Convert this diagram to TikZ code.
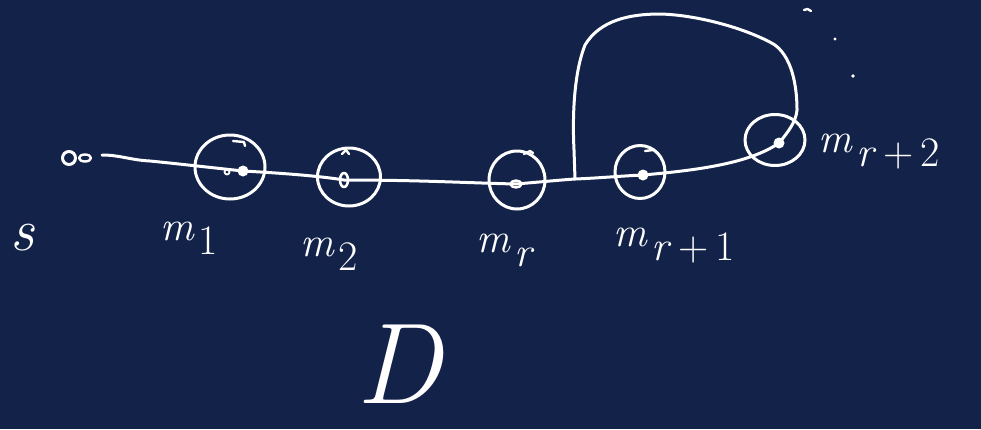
\documentclass[tikz,border=0pt]{standalone}
\usepackage{fontspec}
\usetikzlibrary{shapes.geometric}
\definecolor{bg}{RGB}{19,34,72}
\newcommand\msubx[1]{\textit{m}\hspace{0.08em}\raisebox{-0.35em}{#1}}
\begin{document}
\begin{tikzpicture}[x=1pt,y=-1pt,line cap=round,line join=round,
  pen/.style={draw=white,line width=3pt},
  ring/.style={draw=white,line width=3pt,ellipse,inner sep=0pt},
  dot/.style={circle,fill=white,inner sep=0pt,minimum size=11pt},
  lab/.style={text=white,inner sep=0pt,font=\fontsize{42}{42}\selectfont},
  big/.style={text=white,inner sep=0pt,font=\fontsize{115}{115}\selectfont}]
\fill[bg] (0,0) rectangle (981,429);
\useasboundingbox (0,0) rectangle (981,429);
% source s
\node[draw=white,line width=3pt,circle,minimum size=13pt,inner sep=0pt] (s) at (69,158) {};
\node[draw=white,line width=2.4pt,ellipse,minimum width=12pt,minimum height=7pt,inner sep=0pt] (s2) at (85,158) {};
% dots on the line
\node[dot] (d1) at (243,171) {};
\node[draw=white,line width=1.8pt,circle,minimum size=5pt,inner sep=0pt] (a1) at (227,172) {};
\node[draw=white,line width=2.6pt,ellipse,minimum width=8pt,minimum height=14pt,inner sep=0pt] (d2) at (344,180) {};
\node[draw=white,line width=2.4pt,ellipse,minimum width=11pt,minimum height=7pt,inner sep=0pt] (dr) at (516,184) {};
\node[dot] (d3) at (643,175) {};
\node[dot] (d4) at (779,143) {};
\coordinate (j) at (575,179);
% rings
\node[ring,minimum width=70pt,minimum height=64pt] (c1) at (230,167) {};
\node[ring,minimum width=63pt,minimum height=58pt] (c2) at (349,177) {};
\node[ring,minimum width=56pt,minimum height=58pt] (cr) at (517,180) {};
\node[ring,minimum width=50pt,minimum height=53pt] (c3) at (640,172) {};
\node[ring,minimum width=60pt,minimum height=51pt] (c4) at (775,140) {};
% small pen ticks at ring tops
\draw[pen,line width=2.4pt] (233,141) -- (244,142) -- (245,146);
\draw[pen,line width=2.4pt] (342,154) -- (346,150) -- (349,154);
\draw[pen,line width=2.4pt] (524,154) -- (530,151) -- (533,153);
\draw[pen,line width=2.4pt] (645,151) -- (653,150);
% main line
\draw[pen] (102,155) .. controls (120,155) and (130,160) .. (150,161)
  .. controls (180,164) and (215,168) .. (d1.center)
  .. controls (280,173) and (320,176) .. (d2.center)
  .. controls (420,180) and (470,183) .. (dr.center)
  .. controls (540,182) and (560,180) .. (j)
  .. controls (600,178) and (620,176) .. (d3.center)
  .. controls (700,170) and (750,163) .. (d4.center);
% loop
\draw[pen] (j) -- (574,150) .. controls (572,110) and (575,70) .. (585,45)
  .. controls (600,20) and (630,14) .. (660,14)
  .. controls (700,15) and (750,30) .. (775,45)
  .. controls (795,60) and (797,95) .. (797,110)
  .. controls (796,122) and (788,132) .. (d4.center);
% vertical dots
\draw[pen,line width=2.4pt] (804,10) .. controls (806,8) and (809,9) .. (811,11);
\fill[white] (835,39) circle (1.7pt);
\fill[white] (853,76) circle (1.9pt);
% labels
\node[lab,anchor=base west,font=\fontsize{60}{60}\selectfont] (ls) at (10,250) {\textit{s}};
\node[lab,anchor=base west] (l1) at (160,240) {\msubx{1}};
\node[lab,anchor=base west] (l2) at (300,256) {\msubx{2}};
\node[lab,anchor=base west] (lr) at (476,252) {\msubx{\textit{r}}};
\node[lab,anchor=base west] (l3) at (613,246) {\msubx{\textit{r}\,+\,1}};
\node[lab,anchor=base west] (l4) at (818,152) {\msubx{\textit{r}\,+\,2}};
\node[big] (D) at (400,364) {\textit{D}};
\end{tikzpicture}
\end{document}
